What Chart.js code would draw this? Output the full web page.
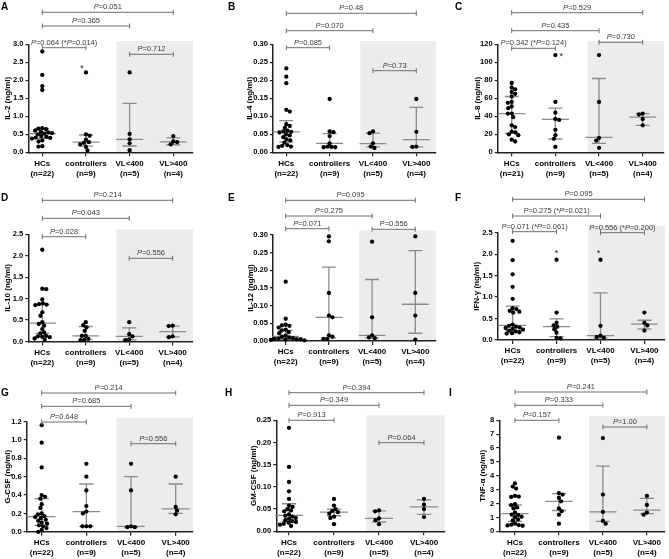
<!DOCTYPE html>
<html><head><meta charset="utf-8">
<script src="https://cdn.jsdelivr.net/npm/chart.js@4.4.1/dist/chart.umd.min.js"></script>
<style>
html,body{margin:0;padding:0;background:#fff;}
#wrap{position:relative;width:669px;height:559px;overflow:hidden;background:#fff;}
#wrap canvas{position:absolute;}
.lt{position:absolute;font:bold 10px "Liberation Sans",Arial,sans-serif;line-height:10px;color:#000;}
</style></head><body><div id="wrap"></div>
<script>
// ---------------- DATA ----------------
const groupNames = ["HCs", "controllers", "VL<400", "VL>400"];
const groupN = ["(n=22)", "(n=9)", "(n=5)", "(n=4)"];
const groupN_IL8 = ["(n=21)", "(n=9)", "(n=5)", "(n=4)"];
const pairs = [[0, 1], [0, 2], [0, 3], [2, 3]];

// IL-2
const IL2_HCs = [2.80, 2.15, 1.84, 1.73, 0.67, 0.66, 0.64, 0.60, 0.57, 0.55, 0.53, 0.52, 0.50, 0.45, 0.43, 0.41, 0.40, 0.38, 0.33, 0.30, 0.17, 0.16];
const IL2_ctrl = [2.22, 0.50, 0.46, 0.35, 0.28, 0.26, 0.22, 0.15, 0.05];
const IL2_low = [2.22, 0.51, 0.36, 0.25, 0.06];
const IL2_high = [0.45, 0.30, 0.28, 0.22];
const IL2_med = [0.52, 0.28, 0.36, 0.29];
const IL2_q1 = [0.39, 0.17, 0.175, 0.21];
const IL2_q3 = [0.66, 0.48, 1.36, 0.40];
const IL2_p = ["P=0.064 (*P=0.014)", "P=0.365", "P=0.051", "P=0.712"];

// IL-4
const IL4_HCs = [0.233, 0.210, 0.192, 0.118, 0.113, 0.078, 0.073, 0.068, 0.060, 0.058, 0.057, 0.055, 0.050, 0.047, 0.042, 0.036, 0.033, 0.027, 0.020, 0.018, 0.016, 0.015];
const IL4_ctrl = [0.148, 0.058, 0.056, 0.045, 0.025, 0.016, 0.015, 0.014, 0.014];
const IL4_low = [0.058, 0.053, 0.025, 0.016, 0.012];
const IL4_high = [0.148, 0.057, 0.016, 0.015];
const IL4_med = [0.057, 0.025, 0.024, 0.035];
const IL4_q1 = [0.028, 0.015, 0.015, 0.015];
const IL4_q3 = [0.088, 0.052, 0.053, 0.125];
const IL4_p = ["P=0.085", "P=0.070", "P=0.48", "P=0.73"];

// IL-8
const IL8_HCs = [77, 72, 70, 67, 65, 62, 56, 55, 51, 49, 43, 43, 39, 30, 28, 23, 22, 20, 19, 14, 12];
const IL8_ctrl = [108, 56, 44, 37, 36, 25, 19, 15, 6];
const IL8_low = [108, 56, 16, 13, 5];
const IL8_high = [43, 42, 37, 30];
const IL8_med = [43, 36.5, 16.5, 39];
const IL8_q1 = [21, 14.8, 10, 30];
const IL8_q3 = [62, 49, 82, 43];
const IL8_p = ["P=0.342 (*P=0.124)", "P=0.435", "P=0.529", "P=0.730"];

// IL-10
const IL10_HCs = [2.14, 1.23, 1.22, 0.98, 0.89, 0.87, 0.86, 0.85, 0.68, 0.60, 0.45, 0.41, 0.37, 0.29, 0.21, 0.19, 0.13, 0.12, 0.11, 0.10, 0.07, 0.04];
const IL10_ctrl = [0.45, 0.38, 0.33, 0.25, 0.13, 0.13, 0.06, 0.04, 0.03];
const IL10_low = [0.45, 0.17, 0.12, 0.05, 0.03];
const IL10_high = [0.37, 0.36, 0.12, 0.10];
const IL10_med = [0.43, 0.13, 0.12, 0.23];
const IL10_q1 = [0.19, 0.05, 0.04, 0.11];
const IL10_q3 = [0.86, 0.35, 0.32, 0.36];
const IL10_p = ["P=0.028", "P=0.043", "P=0.214", "P=0.556"];

// IL-12
const IL12_HCs = [0.168, 0.063, 0.046, 0.044, 0.043, 0.038, 0.032, 0.030, 0.025, 0.022, 0.015, 0.012, 0.010, 0.008, 0.007, 0.006, 0.005, 0.005, 0.004, 0.003, 0.003, 0.002];
const IL12_ctrl = [0.296, 0.282, 0.136, 0.072, 0.067, 0.016, 0.012, 0.006, 0.006];
const IL12_low = [0.281, 0.067, 0.016, 0.010, 0.008];
const IL12_high = [0.296, 0.136, 0.072, 0.004];
const IL12_med = [0.013, 0.067, 0.016, 0.104];
const IL12_q1 = [0.005, 0.009, 0.009, 0.022];
const IL12_q3 = [0.030, 0.209, 0.174, 0.256];
const IL12_p = ["P=0.071", "P=0.275", "P=0.095", "P=0.556"];

// IFN-gamma
const IFN_HCs = [2.31, 1.86, 1.53, 1.24, 0.96, 0.74, 0.72, 0.68, 0.66, 0.64, 0.36, 0.33, 0.31, 0.29, 0.28, 0.26, 0.24, 0.22, 0.20, 0.18, 0.16, 0.15];
const IFN_ctrl = [1.87, 0.64, 0.40, 0.34, 0.31, 0.25, 0.17, 0.05, 0.04];
const IFN_low = [1.87, 0.33, 0.10, 0.07, 0.05];
const IFN_high = [0.64, 0.40, 0.34, 0.22];
const IFN_med = [0.34, 0.31, 0.10, 0.37];
const IFN_q1 = [0.22, 0.08, 0.05, 0.26];
const IFN_q3 = [0.79, 0.49, 1.10, 0.46];
const IFN_p = ["P=0.071 (*P=0.061)", "P=0.275 (*P=0.021)", "P=0.095", "P=0.556 (*P=0.200)"];

// G-CSF
const GCSF_HCs = [1.16, 0.97, 0.70, 0.40, 0.38, 0.36, 0.30, 0.26, 0.20, 0.19, 0.17, 0.16, 0.15, 0.13, 0.12, 0.10, 0.09, 0.07, 0.06, 0.04, 0.02, 0.00];
const GCSF_ctrl = [0.74, 0.60, 0.45, 0.28, 0.22, 0.20, 0.06, 0.06, 0.06];
const GCSF_low = [0.74, 0.45, 0.06, 0.05, 0.05];
const GCSF_high = [0.60, 0.27, 0.23, 0.19];
const GCSF_med = [0.165, 0.22, 0.06, 0.25];
const GCSF_q1 = [0.07, 0.06, 0.05, 0.20];
const GCSF_q3 = [0.36, 0.52, 0.60, 0.52];
const GCSF_p = ["P=0.648", "P=0.685", "P=0.214", "P=0.556"];

// GM-CSF
const GM_HCs = [0.233, 0.145, 0.111, 0.090, 0.073, 0.058, 0.055, 0.050, 0.047, 0.045, 0.038, 0.035, 0.033, 0.030, 0.028, 0.025, 0.023, 0.021, 0.019, 0.017, 0.015, 0.012];
const GM_ctrl = [0.073, 0.058, 0.050, 0.046, 0.043, 0.040, 0.033, 0.030, 0.016];
const GM_low = [0.047, 0.045, 0.029, 0.025, 0.016];
const GM_high = [0.073, 0.060, 0.050, 0.032];
const GM_med = [0.036, 0.043, 0.029, 0.055];
const GM_q1 = [0.022, 0.035, 0.021, 0.038];
const GM_q3 = [0.062, 0.050, 0.046, 0.071];
const GM_p = ["P=0.913", "P=0.349", "P=0.394", "P=0.064"];

// TNF-alpha
const TNF_HCs = [3.45, 3.22, 3.08, 2.55, 2.50, 2.48, 1.95, 1.88, 1.72, 1.65, 1.35, 1.20, 1.18, 1.05, 1.02, 0.85, 0.78, 0.55, 0.48, 0.45, 0.42, 0.40];
const TNF_ctrl = [6.75, 2.75, 2.65, 2.40, 2.16, 1.65, 1.45, 1.20, 0.55];
const TNF_low = [6.72, 2.65, 1.40, 0.75, 0.55];
const TNF_high = [2.55, 1.90, 1.35, 1.20];
const TNF_med = [1.27, 2.16, 1.40, 1.53];
const TNF_q1 = [0.72, 1.50, 0.72, 1.27];
const TNF_q3 = [1.90, 2.72, 4.70, 2.38];
const TNF_p = ["P=0.157", "P=0.333", "P=0.241", "P=1.00"];

// ---------------- PANELS (data refs + layout) ----------------
const ROW_TOP = [0, 186, 372], ROW_H = [186, 186, 187];
const PANELS = [
 {id:"A", title:"IL-2 (ng/ml)", g:[IL2_HCs,IL2_ctrl,IL2_low,IL2_high], med:IL2_med, q1:IL2_q1, q3:IL2_q3, p:IL2_p, n:groupN, yMax:3, step:0.5, dec:1,
  L:{row:0, titleX:7.5, axisX:28.5, top:44.3, bottom:152.3, c0:42.3, c3:173.3, xEnd:193, shadeX:116.7, shadeTop:41, br:[47.7,26,12.3,54.3], letter:[1,2]},
  stars:[{g:1, v:2.22, dx:-4, dy:-4}]},
 {id:"B", title:"IL-4 (ng/ml)", g:[IL4_HCs,IL4_ctrl,IL4_low,IL4_high], med:IL4_med, q1:IL4_q1, q3:IL4_q3, p:IL4_p, n:groupN, yMax:0.30, step:0.05, dec:2,
  L:{row:0, titleX:249.8, axisX:273, top:44.3, bottom:152.3, c0:286.3, c3:416.3, xEnd:436, shadeX:360.3, shadeTop:41, br:[47.7,30.7,13.3,70.7], letter:[228,2]},
  stars:[]},
 {id:"C", title:"IL-8 (ng/ml)", g:[IL8_HCs,IL8_ctrl,IL8_low,IL8_high], med:IL8_med, q1:IL8_q1, q3:IL8_q3, p:IL8_p, n:groupN_IL8, yMax:120, step:20, dec:0,
  L:{row:0, titleX:478, axisX:497.7, top:44.3, bottom:152.3, c0:511.7, c3:642.7, xEnd:664, shadeX:587.7, shadeTop:41, br:[48.3,30.7,12.7,42.3], letter:[455,2]},
  stars:[{g:1, v:108, dx:6, dy:1}]},
 {id:"D", title:"IL-10 (ng/ml)", g:[IL10_HCs,IL10_ctrl,IL10_low,IL10_high], med:IL10_med, q1:IL10_q1, q3:IL10_q3, p:IL10_p, n:groupN, yMax:2.5, step:0.5, dec:1,
  L:{row:1, titleX:7.5, axisX:28.3, top:234.3, bottom:341.5, c0:42.3, c3:172.7, xEnd:193, shadeX:116.7, shadeTop:229.3, br:[236.7,218.3,200.3,258.3], letter:[1,193]},
  stars:[]},
 {id:"E", title:"IL-12 (ng/ml)", g:[IL12_HCs,IL12_ctrl,IL12_low,IL12_high], med:IL12_med, q1:IL12_q1, q3:IL12_q3, p:IL12_p, n:groupN, yMax:0.30, step:0.05, dec:2,
  L:{row:1, titleX:250.5, axisX:273, top:235, bottom:341, c0:285.7, c3:415.3, xEnd:436, shadeX:359, shadeTop:230.3, br:[228.7,216,200.3,229.3], letter:[228,193]},
  stars:[]},
 {id:"F", title:"IFN-\u03b3 (ng/ml)", g:[IFN_HCs,IFN_ctrl,IFN_low,IFN_high], med:IFN_med, q1:IFN_q1, q3:IFN_q3, p:IFN_p, n:groupN, yMax:2.5, step:0.5, dec:1,
  L:{row:1, titleX:476.5, axisX:497.7, top:232.7, bottom:340, c0:512.7, c3:645.3, xEnd:666, shadeX:588.7, shadeTop:226, br:[231.7,216,199.3,232.7], letter:[455,193]},
  stars:[{g:1, v:1.87, dx:0, dy:-6}, {g:2, v:1.87, dx:-2, dy:-6}]},
 {id:"G", title:"G-CSF (ng/ml)", g:[GCSF_HCs,GCSF_ctrl,GCSF_low,GCSF_high], med:GCSF_med, q1:GCSF_q1, q3:GCSF_q3, p:GCSF_p, n:groupN, yMax:1.2, step:0.2, dec:1,
  L:{row:2, titleX:7.5, axisX:26.7, top:421.5, bottom:531.8, c0:41.7, c3:175.7, xEnd:193, shadeX:116.7, shadeTop:417.7, br:[422,406.3,393,443.7], letter:[1,388]},
  stars:[]},
 {id:"H", title:"GM-CSF (ng/ml)", g:[GM_HCs,GM_ctrl,GM_low,GM_high], med:GM_med, q1:GM_q1, q3:GM_q3, p:GM_p, n:groupN, yMax:0.25, step:0.05, dec:2,
  L:{row:2, titleX:253.5, axisX:276.3, top:420.3, bottom:531.3, c0:289, c3:424, xEnd:444.7, shadeX:366.3, shadeTop:415.3, br:[420.3,405.3,392.7,442.7], letter:[225,388]},
  stars:[]},
 {id:"I", title:"TNF-\u03b1 (ng/ml)", g:[TNF_HCs,TNF_ctrl,TNF_low,TNF_high], med:TNF_med, q1:TNF_q1, q3:TNF_q3, p:TNF_p, n:groupN, yMax:8, step:1, dec:0,
  L:{row:2, titleX:482.7, axisX:499.3, top:420.3, bottom:531.3, c0:515.3, c3:650, xEnd:668.5, shadeX:591, shadeTop:416.3, br:[420.3,405.3,392,427], letter:[449,388]},
  stars:[]}
];

// ---------------- RENDER ----------------
Chart.defaults.font.family = "'Liberation Sans', Arial, sans-serif";
const FONT = "'Liberation Sans', Arial, sans-serif";
const wrap = document.getElementById('wrap');
const X_H = 26, DOT_R = 2.15, SWARM_D = 3.9;

function drawRich(ctx, text, cx, y) {
  const parts = text.split(/(P)/).filter(s => s.length);
  const fonts = parts.map(s => s === 'P' ? 'italic 7.5px ' + FONT : '7.5px ' + FONT);
  let total = 0; const w = [];
  parts.forEach((s, i) => { ctx.font = fonts[i]; w[i] = ctx.measureText(s).width; total += w[i]; });
  let x = cx - total / 2;
  ctx.textAlign = 'left'; ctx.textBaseline = 'alphabetic';
  parts.forEach((s, i) => { ctx.font = fonts[i]; ctx.fillText(s, x, y); x += w[i]; });
}

function swarm(chart, groups) {
  const ys = chart.scales.y, xs = chart.scales.x;
  const unit = xs.getPixelForValue(1) - xs.getPixelForValue(0);
  const out = [];
  groups.forEach((vals, g) => {
    const placed = [];
    const items = vals.map(v => ({v, py: ys.getPixelForValue(v)})).sort((a, b) => a.py - b.py);
    items.forEach((p, k) => {
      const cands = [0];
      placed.forEach(q => {
        const dy = Math.abs(q.py - p.py);
        if (dy < SWARM_D) { const dx = Math.sqrt(SWARM_D * SWARM_D - dy * dy); cands.push(q.dx + dx, q.dx - dx); }
      });
      const sgn = k % 2 ? -1 : 1;
      cands.sort((a, b) => (Math.abs(a) - Math.abs(b)) || (sgn * (b - a)));
      let best = 0;
      for (const c of cands) {
        if (placed.every(q => (q.dx - c) ** 2 + (q.py - p.py) ** 2 >= SWARM_D * SWARM_D - 0.01)) { best = c; break; }
      }
      placed.push({dx: best, py: p.py});
      out.push({x: g + best / unit, y: p.v, g});
    });
  });
  return out;
}

PANELS.forEach(P => {
  const L = P.L;
  const rowTop = ROW_TOP[L.row], rowH = ROW_H[L.row];
  const cLeft = Math.round(L.titleX - 4.8);
  const cRight = Math.min(669, Math.round(L.xEnd + 10));
  const cW = cRight - cLeft, cH = rowH;
  const s = (L.c3 - L.c0) / 3;
  const xMin = (L.axisX - L.c0) / s, xMax = 3 + (L.xEnd - L.c3) / s;
  const shadeU = (L.shadeX - L.c0) / s;
  const titleShift = L.titleX - 4.8 - cLeft;

  const cv = document.createElement('canvas');
  cv.width = cW; cv.height = cH;
  cv.style.left = cLeft + 'px'; cv.style.top = rowTop + 'px';
  cv.style.width = cW + 'px'; cv.style.height = cH + 'px';
  wrap.appendChild(cv);

  const lt = document.createElement('div');
  lt.className = 'lt'; lt.textContent = P.id;
  lt.style.left = L.letter[0] + 'px'; lt.style.top = L.letter[1] + 'px';
  wrap.appendChild(lt);

  // median + IQR segments
  const segs = [];
  for (let g = 0; g < 4; g++) {
    const hw = 0.31, cw = 0.16;
    segs.push({x: g - hw, y: P.med[g]}, {x: g + hw, y: P.med[g]}, {x: g, y: null});
    segs.push({x: g, y: P.q1[g]}, {x: g, y: P.q3[g]}, {x: g, y: null});
    segs.push({x: g - cw, y: P.q3[g]}, {x: g + cw, y: P.q3[g]}, {x: g, y: null});
    segs.push({x: g - cw, y: P.q1[g]}, {x: g + cw, y: P.q1[g]}, {x: g, y: null});
  }
  const dots0 = [];
  P.g.forEach((vals, g) => vals.forEach(v => dots0.push({x: g, y: v, g})));

  const deco = {
    id: 'deco' + P.id,
    beforeDraw(chart) {
      const {ctx, chartArea, scales: {x}} = chart;
      const x0 = x.getPixelForValue(shadeU);
      const top = L.shadeTop - rowTop;
      ctx.save(); ctx.fillStyle = '#ececec';
      ctx.fillRect(x0, top, chartArea.right - x0, chartArea.bottom - top);
      ctx.restore();
    },
    afterDraw(chart) {
      const {ctx, scales: {x}} = chart;
      ctx.save();
      pairs.forEach((pr, i) => {
        const xa = x.getPixelForValue(pr[0]), xb = x.getPixelForValue(pr[1]);
        const y = L.br[i] - rowTop;
        ctx.strokeStyle = '#6e6e6e'; ctx.lineWidth = 1;
        ctx.beginPath();
        ctx.moveTo(xa, y); ctx.lineTo(xb, y);
        ctx.moveTo(xa, y - 2.5); ctx.lineTo(xa, y + 2.5);
        ctx.moveTo(xb, y - 2.5); ctx.lineTo(xb, y + 2.5);
        ctx.stroke();
        ctx.fillStyle = '#3a3a3a';
        drawRich(ctx, P.p[i], (xa + xb) / 2, y - 3);
      });
      const meta = chart.getDatasetMeta(1);
      const data = chart.data.datasets[1].data;
      P.stars.forEach(st => {
        const idx = data.findIndex(d => d.g === st.g && d.y === st.v);
        if (idx < 0) return;
        const el = meta.data[idx];
        ctx.fillStyle = '#222'; ctx.font = '9px ' + FONT;
        ctx.textAlign = 'center'; ctx.textBaseline = 'middle';
        ctx.fillText('*', el.x + st.dx, el.y + st.dy);
      });
      ctx.restore();
    }
  };

  const chart = new Chart(cv, {
    type: 'scatter',
    data: {datasets: [
      {data: segs, showLine: true, spanGaps: false, pointRadius: 0, borderColor: '#8a8a8a', borderWidth: 1.3, order: 1, clip: false},
      {data: dots0, pointRadius: DOT_R, pointBackgroundColor: '#000', pointBorderWidth: 0, borderColor: '#000', order: 0, clip: false}
    ]},
    options: {
      responsive: false, animation: false, devicePixelRatio: 1, events: [],
      layout: {padding: {left: 0, top: L.top - rowTop, right: cRight - L.xEnd, bottom: cH - (L.bottom - rowTop) - X_H}},
      plugins: {legend: {display: false}, tooltip: {enabled: false}},
      scales: {
        x: {
          type: 'linear', min: xMin, max: xMax,
          afterBuildTicks: sc => { sc.ticks = [0, 1, 2, 3].map(v => ({value: v})); },
          afterFit: sc => { sc.height = X_H; },
          ticks: {autoSkip: false, maxRotation: 0, padding: 2, color: '#000',
            font: {size: 8, weight: 'bold', lineHeight: 1.25},
            callback: v => [groupNames[v], P.n[v]]},
          grid: {drawOnChartArea: false, drawTicks: true, tickLength: 4, color: '#222', lineWidth: 1.2},
          border: {color: '#222', width: 1.5}
        },
        y: {
          type: 'linear', min: 0, max: P.yMax,
          afterFit: sc => { sc.width = L.axisX - cLeft; },
          ticks: {stepSize: P.step, padding: 2, color: '#000', font: {size: 7.6, weight: 'bold'},
            callback: v => Number(v).toFixed(P.dec)},
          grid: {drawOnChartArea: false, drawTicks: true, tickLength: 3, color: '#222', lineWidth: 1.2},
          border: {color: '#222', width: 1.5},
          title: {display: true, text: P.title, color: '#000', padding: {top: titleShift, bottom: 0}, font: {size: 8, weight: 'bold', lineHeight: 1.2}}
        }
      }
    },
    plugins: [deco]
  });
  chart.data.datasets[1].data = swarm(chart, P.g);
  chart.update('none');
});
</script></body></html>
